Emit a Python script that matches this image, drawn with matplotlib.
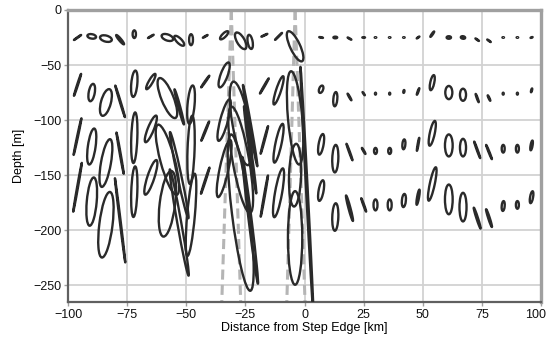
import matplotlib
matplotlib.use("Agg")
import matplotlib.pyplot as plt
import matplotlib.transforms as mtransforms
import numpy as np
from matplotlib.collections import EllipseCollection

plt.rcParams['font.family'] = ['Liberation Sans', 'DejaVu Sans']

# station positions along the section [km]
stations = [-96, -90, -84, -78, -72, -65, -58, -53, -48, -42, -34, -27, -23, -17, -11, -4,
            7, 13, 19, 25, 30, 36, 42, 48, 54, 61, 67, 73, 78, 84, 90, 96]

# ellipse centre depth [m], major / minor axis (in depth-scale metres), inclination [deg]
row1_depth = [-25, -24, -26, -27, -22, -24, -25, -28, -27, -24, -23, -28, -29, -23, -24, -33,
              -25, -25, -26, -25, -25, -25, -25, -25, -22, -25, -25, -27, -28, -25, -25, -25]
row1_major = [8, 8, 11, 11, 7, 6, 11, 12, 10, 5, 10, 17, 13, 6, 9, 30,
              3.5, 3.5, 4, 2.5, 1.5, 1.5, 1.5, 3, 6, 4, 4, 4, 4, 1.5, 1.5, 2]
row1_minor = [0.5, 4, 5.5, 2, 3, 0.5, 5.5, 4.5, 3.5, 0.5, 3.5, 7, 4.5, 0.5, 0.5, 9,
              0.5, 1.5, 0.5, 0.5, 0.5, 0.5, 0.5, 0.5, 1, 2.3, 2.3, 0.5, 0.5, 0.5, 0.5, 0.5]
row1_angle = [35, -10, -15, -50, 90, 30, -20, -45, 90, 30, 45, -60, -80, 25, 45, -65,
              -10, 0, -30, 0, 0, 0, 0, 35, 55, 0, -10, -35, -35, 0, 0, 20]

row2_depth = [-68, -75, -84, -83, -67, -65, -80, -88, -86, -65, -59, -103, -105, -69, -73, -98,
              -72, -81, -79, -76, -76, -76, -74, -74, -66, -75, -77, -80, -80, -76, -76, -73]
row2_major = [21, 16, 25, 30, 24, 16, 39, 33, 35, 13, 24, 77, 75, 16, 27, 85,
              7, 13, 7, 3.6, 1.8, 1.8, 2.7, 6.4, 14, 12, 11, 8, 5.5, 1.8, 1.8, 3.6]
row2_minor = [0.8, 5.5, 9, 0.8, 5.5, 3.6, 11, 1.8, 6.4, 0.8, 6.4, 15, 1.8, 0.8, 4.5, 13,
              3.6, 3.6, 0.8, 0.5, 1, 1, 1, 0.8, 3.6, 6.4, 5.5, 0.8, 0.8, 1, 1, 0.8]
row2_angle = [72, 80, 75, -73, 85, 60, -68, -75, 85, 55, 70, -80, -80, 60, 72, -85,
              70, 85, -60, -55, 90, 90, 80, 70, 78, 90, 90, -70, -65, 90, 90, 75]

row3_x = stations[:16] + [1] + stations[16:]
row3_depth = [-115, -124, -139, -130, -116, -108, -136, -150, -127, -110, -100, -136, -127, -118, -121, -150,
              -164,
              -122, -135, -129, -128, -128, -128, -122, -122, -112, -123, -125, -127, -129, -126, -126, -123]
row3_major = [34, 33, 44, 38, 46, 26, 66, 80, 62, 19, 39, 98, 80, 26, 36, 57,
              225,
              19, 25, 16, 6.4, 5.5, 5.5, 9, 12, 23, 20, 16, 16, 14, 7, 7, 9]
row3_minor = [0.8, 7, 9, 0.8, 5.5, 5.5, 13, 3.6, 6.4, 0.8, 7, 15, 1.8, 0.8, 5.5, 11,
              1.5,
              4.5, 5.5, 0.8, 0.8, 2.7, 2.7, 2.7, 0.8, 4.5, 7, 5.5, 0.8, 0.8, 2.7, 2.7, 1.8]
row3_angle = [78, 82, 80, -80, 88, 68, -75, -78, 88, 68, 75, -80, -82, 75, 78, 88,
              -87,
              80, 88, -70, -60, 90, 90, 85, 80, 78, 90, 90, -70, -68, 90, 90, 80]

row4_depth = [-161, -174, -195, -191, -165, -152, -176, -193, -186, -155, -144, -184, -191, -169, -166, -207,
              -164, -188, -180, -177, -177, -177, -173, -170, -158, -172, -179, -189, -189, -178, -177, -170]
row4_major = [45, 44, 60, 77, 46, 33, 60, 98, 75, 25, 53, 143, 116, 38, 45, 85,
              19, 25, 24, 13, 10, 10, 12, 14, 31, 27, 26, 20, 17, 9, 7, 11]
row4_minor = [0.8, 9, 12, 0.8, 5.5, 6.4, 14, 3.6, 7, 0.8, 8, 16, 2.7, 0.8, 6.4, 13,
              4.5, 5.5, 1.8, 0.8, 3.6, 3.6, 3.6, 1.8, 4.5, 7, 6.4, 1.4, 1.4, 2.7, 2.7, 2.7]
row4_angle = [80, 85, 83, -83, 88, 72, 83, -80, 85, 72, 78, -83, -83, 80, 80, 90,
              80, 88, -75, -70, 90, 90, 85, 80, 78, 90, 90, -72, -72, 85, 90, 80]

# dashed ray paths (surface x -> bottom x) [km]
ray_top = [-31, -31, -4, -4]
ray_bottom = [-35, -27, -7.5, 0.2]

rows = [
    (stations, row1_depth, row1_major, row1_minor, row1_angle),
    (stations, row2_depth, row2_major, row2_minor, row2_angle),
    (row3_x, row3_depth, row3_major, row3_minor, row3_angle),
    (stations, row4_depth, row4_major, row4_minor, row4_angle),
]

fig = plt.figure(figsize=(5.49, 3.43), dpi=100)
ax = fig.add_axes([0.124, 0.12, 0.8615, 0.851])

ax.set_xlim(-100, 100)
ax.set_ylim(-265, 0)
ax.set_xticks(np.arange(-100, 101, 25))
ax.set_yticks(np.arange(-250, 1, 50))
ax.grid(True, color='#d2d2d2', lw=1.3, zorder=0)
ax.set_axisbelow(True)

for t, b in zip(ray_top, ray_bottom):
    ax.plot([t, b], [0, -265], color='#b5b5b5', lw=2.2, ls=(0, (3.3, 1.7)), zorder=1)

for xs, ds, maj, mnr, ang in rows:
    ec = EllipseCollection(maj, mnr, ang, units='y', offsets=np.column_stack([xs, ds]),
                           offset_transform=ax.transData, facecolors='none',
                           edgecolors='#2a2a2a', linewidths=1.7, zorder=3)
    ax.add_collection(ec)

for side in ['left', 'bottom']:
    ax.spines[side].set_color('#606060')
    ax.spines[side].set_linewidth(1.6)
for side in ['top', 'right']:
    ax.spines[side].set_color('#a0a0a0')
    ax.spines[side].set_linewidth(2.4)

ax.tick_params(length=3, width=1, color='#a0a0a0', pad=2, labelsize=9, labelcolor='#111111')
ax.set_xlabel('Distance from Step Edge [km]', fontsize=9, labelpad=1)
ax.set_ylabel('Depth [m]', fontsize=9, labelpad=6)

# keep the last x tick label inside the figure
fig.canvas.draw()
last = ax.get_xticklabels()[-1]
last.set_transform(last.get_transform() + mtransforms.ScaledTranslation(-5 / 100, 0, fig.dpi_scale_trans))

fig.savefig('out.png', dpi=100)
